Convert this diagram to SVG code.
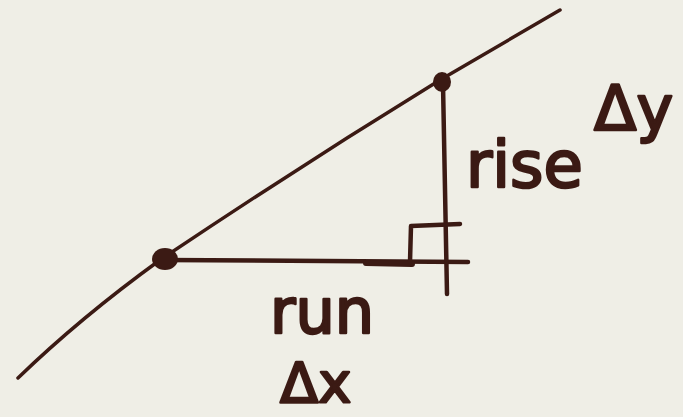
<svg xmlns="http://www.w3.org/2000/svg" width="683" height="417" viewBox="0 0 683 417">
<style>
.ink{stroke:#3b1a14;fill:none;stroke-linecap:round;stroke-linejoin:round}
.lbl{font-family:"DejaVu Sans",sans-serif;fill:#3b1a14;stroke:#3b1a14;stroke-width:2.5;stroke-linejoin:round}
.dot{fill:#3b1a14}
</style>
<rect x="0" y="0" width="683" height="417" fill="#efeee6"/>
<g id="connectors">
<path id="line" class="ink" stroke-width="3.5" d="M18,378 Q80,318 160,260 Q300,166 440,80 Q500,45 560,10"/>
<path id="run-line" class="ink" stroke-width="4.5" d="M163,260 L468,262"/>
<path id="stub" class="ink" stroke-width="6" d="M366,263 L412,264"/>
<path id="rise-line" class="ink" stroke-width="4.5" d="M443,84 L447,294"/>
<path id="right-angle" class="ink" stroke-width="4.5" d="M410,262 L411,226 L460,224"/>
</g>
<g id="point-a"><ellipse class="dot" cx="165" cy="259" rx="13" ry="11"/></g>
<g id="point-b"><ellipse class="dot" cx="442" cy="82" rx="9" ry="10"/></g>
<g id="label-rise"><text class="lbl" x="466" y="187" font-size="64">rise</text></g>
<g id="label-dy"><text class="lbl" x="594" y="130" font-size="62">Δy</text></g>
<g id="label-run"><text class="lbl" x="270" y="333" font-size="62">run</text></g>
<g id="label-dx"><text class="lbl" x="280" y="402" font-size="56">Δx</text></g>
</svg>
